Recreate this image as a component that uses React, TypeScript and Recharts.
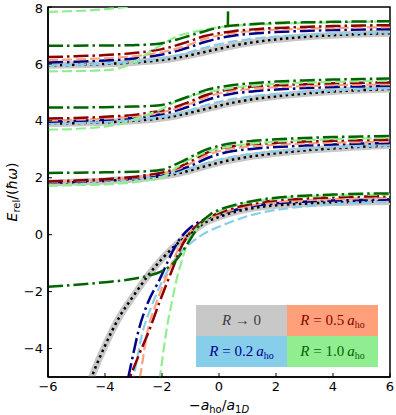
import React from 'react';
import { LineChart, Line, XAxis, YAxis, ReferenceArea } from 'recharts';

const xTicks = [-6, -4, -2, 0, 2, 4, 6];
const yTicks = [-4, -2, 0, 2, 4, 6, 8];

// shared x grid for the excited branches
const branchX = [-6, -5, -4, -3.5, -3, -2.5, -2, -1.5, -1, -0.5, 0, 0.5, 1, 1.5, 2, 3, 4, 5, 6];

// R -> 0 (grey band + black dots)
const zeroGroundX = [-4.7, -4.5, -4, -3.5, -3, -2.5, -2, -1.5, -1, -0.5, 0, 0.5, 1, 1.5, 2, 3, 4, 5, 6];
const zeroGround = [-5.7, -5.1, -3.9, -2.9, -2.15, -1.45, -0.85, -0.35, 0.05, 0.42, 0.62, 0.78, 0.9, 0.98, 1.03, 1.09, 1.13, 1.15, 1.17];
const zero1 = [1.82, 1.85, 1.89, 1.92, 1.95, 2.0, 2.06, 2.14, 2.26, 2.4, 2.53, 2.64, 2.73, 2.8, 2.86, 2.96, 3.03, 3.09, 3.13];
const zero2 = [3.9, 3.92, 3.95, 3.97, 4.0, 4.04, 4.1, 4.18, 4.29, 4.41, 4.53, 4.64, 4.73, 4.8, 4.86, 4.96, 5.03, 5.08, 5.12];
const zero3 = [5.95, 5.97, 6.0, 6.02, 6.05, 6.09, 6.14, 6.21, 6.31, 6.42, 6.53, 6.64, 6.73, 6.8, 6.86, 6.95, 7.01, 7.05, 7.08];

// R = 0.2 a_ho, dashed (light blue)
const lbGroundX = [-3.05, -2.9, -2.7, -2.4, -2, -1.5, -1, -0.5, 0, 0.5, 1, 1.5, 2, 3, 4, 5, 6];
const lbGround = [-5.3, -4.5, -3.5, -2.6, -1.65, -0.8, -0.3, 0.05, 0.28, 0.48, 0.65, 0.78, 0.87, 0.99, 1.07, 1.12, 1.16];
const lb1 = [1.82, 1.85, 1.89, 1.92, 1.96, 2.01, 2.08, 2.18, 2.33, 2.5, 2.64, 2.74, 2.82, 2.88, 2.93, 3.01, 3.07, 3.11, 3.14];
const lb2 = [3.9, 3.92, 3.96, 3.99, 4.02, 4.07, 4.14, 4.24, 4.38, 4.54, 4.67, 4.77, 4.84, 4.9, 4.94, 5.02, 5.07, 5.11, 5.14];
const lb3 = [5.95, 5.97, 6.01, 6.04, 6.07, 6.12, 6.19, 6.29, 6.42, 6.57, 6.69, 6.79, 6.86, 6.92, 6.96, 7.02, 7.06, 7.09, 7.11];

// R = 0.2 a_ho, dash-dot (dark blue)
const nvGroundX = [-3.4, -3.18, -3, -2.83, -2.5, -2.07, -1.8, -1.61, -1.3, -1, -0.6, -0.3, 0, 0.5, 1, 1.5, 2, 3, 4, 5, 6];
const nvGround = [-5.9, -5, -4.15, -3.4, -2.4, -1.55, -0.95, -0.55, -0.05, 0.25, 0.5, 0.62, 0.7, 0.85, 0.97, 1.05, 1.1, 1.16, 1.2, 1.22, 1.24];
const nv1 = [1.84, 1.87, 1.92, 1.95, 1.99, 2.05, 2.12, 2.24, 2.42, 2.65, 2.83, 2.94, 3.0, 3.05, 3.08, 3.13, 3.17, 3.2, 3.22];
const nv2 = [3.97, 4.0, 4.04, 4.07, 4.1, 4.16, 4.24, 4.36, 4.52, 4.71, 4.86, 4.96, 5.02, 5.07, 5.1, 5.15, 5.19, 5.21, 5.23];
const nv3 = [6.05, 6.08, 6.12, 6.15, 6.19, 6.25, 6.33, 6.45, 6.6, 6.77, 6.9, 6.99, 7.05, 7.09, 7.12, 7.16, 7.19, 7.21, 7.22];

// R = 0.5 a_ho, dashed (salmon)
const saGroundX = [-2.95, -2.77, -2.51, -2.2, -1.89, -1.64, -1.44, -1.2, -0.9, -0.6, -0.3, 0, 0.5, 1, 1.5, 2, 3, 4, 5, 6];
const saGround = [-6, -5, -3.4, -2.4, -1.58, -0.98, -0.53, -0.1, 0.22, 0.45, 0.6, 0.72, 0.88, 1.0, 1.09, 1.14, 1.21, 1.25, 1.28, 1.29];
const sa1 = [1.85, 1.88, 1.93, 1.96, 2.0, 2.07, 2.15, 2.28, 2.5, 2.76, 2.93, 3.03, 3.09, 3.13, 3.16, 3.2, 3.23, 3.25, 3.27];
const sa2 = [4.01, 4.04, 4.08, 4.11, 4.15, 4.21, 4.3, 4.43, 4.6, 4.81, 4.96, 5.05, 5.11, 5.15, 5.18, 5.22, 5.25, 5.27, 5.28];
const sa3 = [6.13, 6.16, 6.2, 6.23, 6.27, 6.33, 6.41, 6.53, 6.69, 6.88, 7.0, 7.08, 7.14, 7.18, 7.2, 7.24, 7.26, 7.28, 7.29];

// R = 0.5 a_ho, dash-dot (dark red)
const drGroundX = [-3.35, -3.12, -2.8, -2.44, -2.1, -1.78, -1.55, -1.37, -1.1, -0.8, -0.5, -0.2, 0, 0.5, 1, 1.5, 2, 3, 4, 5, 6];
const drGround = [-5.6, -5, -4.2, -3.34, -2.4, -1.58, -1.0, -0.53, -0.05, 0.3, 0.52, 0.68, 0.76, 0.93, 1.05, 1.14, 1.2, 1.27, 1.31, 1.34, 1.35];
const dr1 = [1.87, 1.9, 1.95, 1.99, 2.03, 2.1, 2.18, 2.33, 2.58, 2.85, 3.02, 3.11, 3.17, 3.2, 3.23, 3.27, 3.3, 3.32, 3.34];
const dr2 = [4.08, 4.1, 4.14, 4.17, 4.21, 4.28, 4.36, 4.5, 4.68, 4.89, 5.04, 5.13, 5.19, 5.23, 5.25, 5.29, 5.32, 5.34, 5.35];
const dr3 = [6.24, 6.27, 6.31, 6.34, 6.38, 6.44, 6.52, 6.65, 6.81, 6.98, 7.08, 7.15, 7.2, 7.24, 7.26, 7.3, 7.33, 7.35, 7.36];

// R = 1.0 a_ho, dashed (light green)
const lgGroundX = [-2.15, -2.07, -1.95, -1.84, -1.65, -1.49, -1.3, -1.19, -1, -0.8, -0.6, -0.3, 0, 0.5, 1, 1.5, 2, 3, 4, 5, 6];
const lgGround = [-5.6, -5, -4.1, -3.34, -2.35, -1.58, -0.9, -0.53, -0.1, 0.2, 0.42, 0.66, 0.82, 1.0, 1.12, 1.2, 1.26, 1.33, 1.37, 1.4, 1.41];
const lg1 = [1.72, 1.74, 1.77, 1.8, 1.84, 1.91, 2.02, 2.35, 2.66, 2.88, 3.02, 3.12, 3.18, 3.23, 3.27, 3.32, 3.36, 3.38, 3.4];
const lg2 = [3.69, 3.72, 3.8, 3.88, 4.05, 4.22, 4.42, 4.68, 4.86, 5.0, 5.08, 5.16, 5.22, 5.26, 5.3, 5.34, 5.37, 5.39, 5.41];
const lg3 = [5.74, 5.75, 5.78, 5.85, 6.05, 6.38, 6.68, 6.96, 7.1, 7.2, 7.29, 7.34, 7.37, 7.39, 7.41, 7.44, 7.46, 7.48, 7.49];
const lgTopX = [-6, -5, -4, -3.5, -3, -2.5];
const lgTop = [7.83, 7.86, 7.92, 7.97, 8.05, 8.2];

// R = 1.0 a_ho, dash-dot (dark green)
const dgGroundX = [-6, -5, -4, -3, -2.5, -2, -1.6, -1.3, -1, -0.6, -0.3, 0, 0.5, 1, 1.5, 2, 3, 4, 5, 6];
const dgGround = [-1.83, -1.76, -1.67, -1.55, -1.45, -1.28, -1.0, -0.62, -0.15, 0.45, 0.72, 0.87, 1.03, 1.15, 1.24, 1.3, 1.37, 1.41, 1.44, 1.45];
const dg1 = [2.17, 2.18, 2.19, 2.2, 2.21, 2.23, 2.28, 2.48, 2.73, 2.97, 3.12, 3.22, 3.28, 3.32, 3.35, 3.4, 3.43, 3.45, 3.47];
const dg2 = [4.47, 4.47, 4.48, 4.49, 4.5, 4.52, 4.56, 4.7, 4.88, 5.07, 5.18, 5.26, 5.31, 5.35, 5.38, 5.42, 5.45, 5.47, 5.49];
const dg3 = [6.64, 6.64, 6.65, 6.65, 6.66, 6.68, 6.73, 6.85, 7.0, 7.15, 7.28, 7.35, 7.39, 7.42, 7.44, 7.46, 7.48, 7.49, 7.5];
const dgPoleX = [0.31, 0.33];
const dgPole = [7.32, 8.6];

const pts = (xs: number[], ys: number[]) => xs.map((x, i) => ({ x, y: ys[i] }));

const DASHED = '10 4';
const DASHDOT = '15 4 2.5 4';
const DOTTED = '2.5 3.5';

type Curve = { id: string; data: { x: number; y: number }[]; color: string; width: number; dash?: string };

const band = (id: string, xs: number[], ys: number[]): Curve[] => [
  { id: id + '-band', data: pts(xs, ys), color: '#c8c8c8', width: 7 },
  { id: id + '-dots', data: pts(xs, ys), color: '#000000', width: 2.5, dash: DOTTED },
];
const mk = (id: string, xs: number[], ys: number[], color: string, dash: string, width: number): Curve => ({
  id, data: pts(xs, ys), color, dash, width,
});

const SKY = '#87ceeb';
const NAVY = '#00008b';
const SALMON = '#ffa07a';
const DARKRED = '#8b0000';
const LGREEN = '#90ee90';
const DGREEN = '#006400';

const curves: Curve[] = [
  ...band('z0', zeroGroundX, zeroGround),
  ...band('z1', branchX, zero1),
  ...band('z2', branchX, zero2),
  ...band('z3', branchX, zero3),
  mk('lb0', lbGroundX, lbGround, SKY, DASHED, 2.2),
  mk('lb1', branchX, lb1, SKY, DASHED, 2.2),
  mk('lb2', branchX, lb2, SKY, DASHED, 2.2),
  mk('lb3', branchX, lb3, SKY, DASHED, 2.2),
  mk('nv0', nvGroundX, nvGround, NAVY, DASHDOT, 2.5),
  mk('nv1', branchX, nv1, NAVY, DASHDOT, 2.5),
  mk('nv2', branchX, nv2, NAVY, DASHDOT, 2.5),
  mk('nv3', branchX, nv3, NAVY, DASHDOT, 2.5),
  mk('sa0', saGroundX, saGround, SALMON, DASHED, 2.2),
  mk('sa1', branchX, sa1, SALMON, DASHED, 2.2),
  mk('sa2', branchX, sa2, SALMON, DASHED, 2.2),
  mk('sa3', branchX, sa3, SALMON, DASHED, 2.2),
  mk('dr0', drGroundX, drGround, DARKRED, DASHDOT, 2.5),
  mk('dr1', branchX, dr1, DARKRED, DASHDOT, 2.5),
  mk('dr2', branchX, dr2, DARKRED, DASHDOT, 2.5),
  mk('dr3', branchX, dr3, DARKRED, DASHDOT, 2.5),
  mk('lg0', lgGroundX, lgGround, LGREEN, DASHED, 2.2),
  mk('lg1', branchX, lg1, LGREEN, DASHED, 2.2),
  mk('lg2', branchX, lg2, LGREEN, DASHED, 2.2),
  mk('lg3', branchX, lg3, LGREEN, DASHED, 2.2),
  mk('lg4', lgTopX, lgTop, LGREEN, DASHED, 2.2),
  mk('dg0', dgGroundX, dgGround, DGREEN, DASHDOT, 2.5),
  mk('dg1', branchX, dg1, DGREEN, DASHDOT, 2.5),
  mk('dg2', branchX, dg2, DGREEN, DASHDOT, 2.5),
  mk('dg3', branchX, dg3, DGREEN, DASHDOT, 2.5),
  mk('dg4', dgPoleX, dgPole, DGREEN, DASHDOT, 2.5),
];

const fmt = (v: number) => (v < 0 ? '\u2212' + Math.abs(v) : String(v));
const tickStyle = { fill: '#000', fontSize: 13, fontFamily: 'DejaVu Sans' };

const legendCells = [
  { bg: '#c8c8c8', fg: '#3c3c3c', label: 'zero' },
  { bg: SALMON, fg: DARKRED, value: '0.5' },
  { bg: SKY, fg: NAVY, value: '0.2' },
  { bg: LGREEN, fg: DGREEN, value: '1.0' },
];

const serif = '"Liberation Serif", "DejaVu Serif", serif';

export default function App() {
  return (
    <div style={{ position: 'absolute', left: 0, top: 0, width: 396, height: 415, background: '#fff' }}>
      <LineChart width={396} height={415} margin={{ top: 7, right: 6, bottom: 8, left: 8 }}>
        <XAxis
          dataKey="x"
          type="number"
          domain={[-6, 6]}
          ticks={xTicks}
          allowDataOverflow
          height={30}
          tickSize={-4}
          tickMargin={9}
          tickFormatter={fmt}
          tick={tickStyle}
          axisLine={{ stroke: '#000', strokeWidth: 1.5 }}
          tickLine={{ stroke: '#000' }}
        />
        <YAxis
          type="number"
          domain={[-5, 8]}
          ticks={yTicks}
          allowDataOverflow
          width={40}
          tickSize={-4}
          tickMargin={9}
          tickFormatter={fmt}
          tick={tickStyle}
          axisLine={{ stroke: '#000', strokeWidth: 1.5 }}
          tickLine={{ stroke: '#000' }}
        />
        {curves.map((c) => (
          <Line
            key={c.id}
            data={c.data}
            dataKey="y"
            type="monotone"
            stroke={c.color}
            strokeWidth={c.width}
            strokeDasharray={c.dash}
            dot={false}
            activeDot={false}
            isAnimationActive={false}
          />
        ))}
        <ReferenceArea x1={-6} x2={6} y1={-5} y2={8} fill="none" stroke="#000" strokeWidth={1.5} />
      </LineChart>

      <div
        style={{
          position: 'absolute', left: 196, top: 305, width: 182, height: 62,
          display: 'grid', gridTemplateColumns: '91px 91px', gridTemplateRows: '31px 31px',
          fontFamily: serif, fontSize: 15,
        }}
      >
        {legendCells.map((c, i) => (
          <div key={i} style={{ background: c.bg, color: c.fg, display: 'flex', alignItems: 'center', justifyContent: 'center', whiteSpace: 'nowrap' }}>
            {c.label === 'zero' ? (
              <span><i>R</i> {'\u2192'} 0</span>
            ) : (
              <span>
                <i>R</i> = {c.value}&thinsp;<i>a</i>
                <sub style={{ fontSize: 10, verticalAlign: '-3px' }}>ho</sub>
              </span>
            )}
          </div>
        ))}
      </div>

      <div
        style={{
          position: 'absolute', left: 13, top: 192, transform: 'translate(-50%, -50%) rotate(-90deg)',
          whiteSpace: 'nowrap', fontFamily: 'DejaVu Sans', fontSize: 14, color: '#000',
        }}
      >
        <i>E</i><sub style={{ fontSize: 10, verticalAlign: '-3px' }}>rel</sub>/(<i>{'\u0127\u03c9'}</i>)
      </div>
      <div
        style={{
          position: 'absolute', left: 219, top: 406, transform: 'translate(-50%, -50%)',
          whiteSpace: 'nowrap', fontFamily: 'DejaVu Sans', fontSize: 14, color: '#000',
        }}
      >
        {'\u2212'}<i>a</i><sub style={{ fontSize: 10, verticalAlign: '-3px' }}>ho</sub>/<i>a</i>
        <sub style={{ fontSize: 10, verticalAlign: '-3px' }}>1<i>D</i></sub>
      </div>
    </div>
  );
}
